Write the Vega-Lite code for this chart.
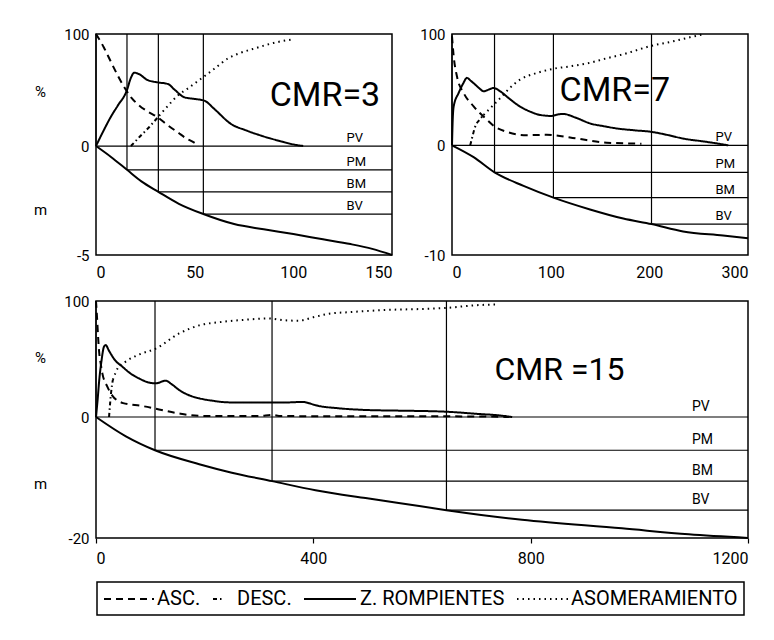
{
  "$schema": "https://vega.github.io/schema/vega-lite/v6.json",
  "padding": {"left": 32, "top": 26, "right": 5, "bottom": 5},
  "background": "white",
  "spacing": 12,
  "config": {
    "font": "Roboto",
    "view": {"stroke": "#000", "strokeWidth": 1.5},
    "line": {"color": "#000"},
    "axis": {"grid": false, "domain": false, "ticks": false, "labelColor": "#000", "titleColor": "#000", "titleFontWeight": "normal", "titleFontSize": 15, "labelFontSize": 15}
  },
  "resolve": {"scale": {"strokeDash": "independent"}, "legend": {"strokeDash": "independent"}},
  "datasets": {
    "p1_lines": [
      {"s": "ASC.", "x": 0, "p": 100}, {"s": "ASC.", "x": 4, "p": 88}, {"s": "ASC.", "x": 7.6, "p": 75}, {"s": "ASC.", "x": 11, "p": 63}, {"s": "ASC.", "x": 15.2, "p": 50}, {"s": "ASC.", "x": 18, "p": 43}, {"s": "ASC.", "x": 22, "p": 36}, {"s": "ASC.", "x": 26, "p": 31}, {"s": "ASC.", "x": 31.3, "p": 25.6}, {"s": "ASC.", "x": 36, "p": 19}, {"s": "ASC.", "x": 41.4, "p": 12.2}, {"s": "ASC.", "x": 46, "p": 6.5}, {"s": "ASC.", "x": 49.8, "p": 3}, {"s": "ASC.", "x": 52, "p": 0},
      {"s": "DESC.", "x": 17.7, "p": 0}, {"s": "DESC.", "x": 22, "p": 8}, {"s": "DESC.", "x": 27, "p": 17}, {"s": "DESC.", "x": 32, "p": 27},
      {"s": "ASOMERAMIENTO", "x": 32, "p": 27}, {"s": "ASOMERAMIENTO", "x": 36.5, "p": 36}, {"s": "ASOMERAMIENTO", "x": 41.4, "p": 45}, {"s": "ASOMERAMIENTO", "x": 47, "p": 52}, {"s": "ASOMERAMIENTO", "x": 53.2, "p": 60}, {"s": "ASOMERAMIENTO", "x": 60, "p": 69}, {"s": "ASOMERAMIENTO", "x": 66.7, "p": 78}, {"s": "ASOMERAMIENTO", "x": 73, "p": 83}, {"s": "ASOMERAMIENTO", "x": 80.2, "p": 87}, {"s": "ASOMERAMIENTO", "x": 90, "p": 92}, {"s": "ASOMERAMIENTO", "x": 100.5, "p": 95.5},
      {"s": "Z. ROMPIENTES", "x": 0, "p": 0}, {"s": "Z. ROMPIENTES", "x": 4.2, "p": 15}, {"s": "Z. ROMPIENTES", "x": 7.5, "p": 26}, {"s": "Z. ROMPIENTES", "x": 11, "p": 36}, {"s": "Z. ROMPIENTES", "x": 15.7, "p": 50}, {"s": "Z. ROMPIENTES", "x": 17.5, "p": 60}, {"s": "Z. ROMPIENTES", "x": 19.4, "p": 65.5}, {"s": "Z. ROMPIENTES", "x": 22, "p": 64}, {"s": "Z. ROMPIENTES", "x": 26, "p": 59}, {"s": "Z. ROMPIENTES", "x": 31.3, "p": 56.8}, {"s": "Z. ROMPIENTES", "x": 36.4, "p": 55.4}, {"s": "Z. ROMPIENTES", "x": 40, "p": 50}, {"s": "Z. ROMPIENTES", "x": 44.8, "p": 43.5}, {"s": "Z. ROMPIENTES", "x": 50, "p": 42}, {"s": "Z. ROMPIENTES", "x": 54.9, "p": 40.5}, {"s": "Z. ROMPIENTES", "x": 60, "p": 33}, {"s": "Z. ROMPIENTES", "x": 68.5, "p": 19.6}, {"s": "Z. ROMPIENTES", "x": 76, "p": 14}, {"s": "Z. ROMPIENTES", "x": 83.8, "p": 9.2}, {"s": "Z. ROMPIENTES", "x": 92, "p": 5}, {"s": "Z. ROMPIENTES", "x": 100.7, "p": 1.2}, {"s": "Z. ROMPIENTES", "x": 105, "p": 0}
    ],
    "p1_depth": [
      {"x": 0, "d": 0}, {"x": 7.6, "d": -0.5}, {"x": 15.7, "d": -1.09}, {"x": 23, "d": -1.62}, {"x": 31.6, "d": -2.1}, {"x": 42, "d": -2.65}, {"x": 54.4, "d": -3.12}, {"x": 70, "d": -3.58}, {"x": 85, "d": -3.82}, {"x": 100, "d": -4.04}, {"x": 115, "d": -4.28}, {"x": 129, "d": -4.5}, {"x": 140, "d": -4.72}, {"x": 150, "d": -5}
    ],
    "p1_zones": [
      {"zone": "PV", "x": 0, "d": 0}, {"zone": "PM", "x": 15.7, "d": -1.09}, {"zone": "BM", "x": 31.6, "d": -2.1}, {"zone": "BV", "x": 54.4, "d": -3.12}
    ],
    "p2_lines": [
      {"s": "ASC.", "x": 0, "p": 98}, {"s": "ASC.", "x": 1.7, "p": 80}, {"s": "ASC.", "x": 5, "p": 62}, {"s": "ASC.", "x": 11.8, "p": 47}, {"s": "ASC.", "x": 21.9, "p": 35}, {"s": "ASC.", "x": 35.4, "p": 23}, {"s": "ASC.", "x": 42.1, "p": 17.6}, {"s": "ASC.", "x": 55.6, "p": 12.1}, {"s": "ASC.", "x": 75.8, "p": 9.1}, {"s": "ASC.", "x": 96, "p": 9.5}, {"s": "ASC.", "x": 102.8, "p": 9.1}, {"s": "ASC.", "x": 126.4, "p": 6.1}, {"s": "ASC.", "x": 156.7, "p": 2.4}, {"s": "ASC.", "x": 192, "p": 1.5},
      {"s": "DESC.", "x": 18.5, "p": 0}, {"s": "DESC.", "x": 21, "p": 9}, {"s": "DESC.", "x": 23.6, "p": 17}, {"s": "DESC.", "x": 28, "p": 23}, {"s": "DESC.", "x": 32, "p": 27.3},
      {"s": "ASOMERAMIENTO", "x": 32, "p": 27.3}, {"s": "ASOMERAMIENTO", "x": 40.4, "p": 34.8}, {"s": "ASOMERAMIENTO", "x": 48.9, "p": 42.4}, {"s": "ASOMERAMIENTO", "x": 58, "p": 51}, {"s": "ASOMERAMIENTO", "x": 69, "p": 59}, {"s": "ASOMERAMIENTO", "x": 86, "p": 65}, {"s": "ASOMERAMIENTO", "x": 102.8, "p": 68.8}, {"s": "ASOMERAMIENTO", "x": 120, "p": 71}, {"s": "ASOMERAMIENTO", "x": 139.9, "p": 74.2}, {"s": "ASOMERAMIENTO", "x": 156, "p": 78}, {"s": "ASOMERAMIENTO", "x": 173.6, "p": 81.8}, {"s": "ASOMERAMIENTO", "x": 202.2, "p": 89.4}, {"s": "ASOMERAMIENTO", "x": 222, "p": 93}, {"s": "ASOMERAMIENTO", "x": 241, "p": 97}, {"s": "ASOMERAMIENTO", "x": 256, "p": 100},
      {"s": "Z. ROMPIENTES", "x": 0, "p": 0}, {"s": "Z. ROMPIENTES", "x": 0.6, "p": 20}, {"s": "Z. ROMPIENTES", "x": 1.7, "p": 35}, {"s": "Z. ROMPIENTES", "x": 6.7, "p": 47}, {"s": "Z. ROMPIENTES", "x": 11, "p": 55}, {"s": "Z. ROMPIENTES", "x": 15.2, "p": 60.6}, {"s": "Z. ROMPIENTES", "x": 19, "p": 58}, {"s": "Z. ROMPIENTES", "x": 23.6, "p": 54.5}, {"s": "Z. ROMPIENTES", "x": 28, "p": 51}, {"s": "Z. ROMPIENTES", "x": 32, "p": 48.5}, {"s": "Z. ROMPIENTES", "x": 37, "p": 50}, {"s": "Z. ROMPIENTES", "x": 42.1, "p": 51.5}, {"s": "Z. ROMPIENTES", "x": 48.9, "p": 48.5}, {"s": "Z. ROMPIENTES", "x": 58, "p": 42}, {"s": "Z. ROMPIENTES", "x": 69, "p": 34.8}, {"s": "Z. ROMPIENTES", "x": 80, "p": 30}, {"s": "Z. ROMPIENTES", "x": 89.3, "p": 27.3}, {"s": "Z. ROMPIENTES", "x": 101, "p": 26.4}, {"s": "Z. ROMPIENTES", "x": 106, "p": 27.5}, {"s": "Z. ROMPIENTES", "x": 112.9, "p": 28.2}, {"s": "Z. ROMPIENTES", "x": 125, "p": 25}, {"s": "Z. ROMPIENTES", "x": 139.9, "p": 19.7}, {"s": "Z. ROMPIENTES", "x": 155, "p": 17}, {"s": "Z. ROMPIENTES", "x": 166.8, "p": 15.2}, {"s": "Z. ROMPIENTES", "x": 185, "p": 13.5}, {"s": "Z. ROMPIENTES", "x": 202.2, "p": 12.1}, {"s": "Z. ROMPIENTES", "x": 220, "p": 9}, {"s": "Z. ROMPIENTES", "x": 234.2, "p": 6.1}, {"s": "Z. ROMPIENTES", "x": 255, "p": 3.5}, {"s": "Z. ROMPIENTES", "x": 270, "p": 1.5}, {"s": "Z. ROMPIENTES", "x": 280, "p": 0}
    ],
    "p2_depth": [
      {"x": 0, "d": 0}, {"x": 21.9, "d": -1.08}, {"x": 43.1, "d": -2.46}, {"x": 72.5, "d": -3.7}, {"x": 102.8, "d": -4.77}, {"x": 139.9, "d": -5.85}, {"x": 173.6, "d": -6.68}, {"x": 202.2, "d": -7.18}, {"x": 234.2, "d": -7.85}, {"x": 274.7, "d": -8.22}, {"x": 300, "d": -8.47}
    ],
    "p2_zones": [
      {"zone": "PV", "x": 0, "d": 0}, {"zone": "PM", "x": 43.1, "d": -2.46}, {"zone": "BM", "x": 102.8, "d": -4.77}, {"zone": "BV", "x": 202.2, "d": -7.18}
    ],
    "p3_lines": [
      {"s": "ASC.", "x": 0, "p": 100}, {"s": "ASC.", "x": 2, "p": 85}, {"s": "ASC.", "x": 4, "p": 68}, {"s": "ASC.", "x": 6, "p": 55}, {"s": "ASC.", "x": 9, "p": 45}, {"s": "ASC.", "x": 11.7, "p": 37.6}, {"s": "ASC.", "x": 20, "p": 27}, {"s": "ASC.", "x": 30, "p": 18.5}, {"s": "ASC.", "x": 50, "p": 12}, {"s": "ASC.", "x": 85, "p": 9.5}, {"s": "ASC.", "x": 116, "p": 6.5}, {"s": "ASC.", "x": 153, "p": 3}, {"s": "ASC.", "x": 190, "p": 1}, {"s": "ASC.", "x": 240, "p": 0.8}, {"s": "ASC.", "x": 300, "p": 0.8}, {"s": "ASC.", "x": 324, "p": 1.8}, {"s": "ASC.", "x": 340, "p": 0.8}, {"s": "ASC.", "x": 450, "p": 0.7}, {"s": "ASC.", "x": 600, "p": 0.6}, {"s": "ASC.", "x": 700, "p": 0.5}, {"s": "ASC.", "x": 760, "p": 0},
      {"s": "DESC.", "x": 24, "p": 0}, {"s": "DESC.", "x": 26, "p": 12}, {"s": "DESC.", "x": 28, "p": 22}, {"s": "DESC.", "x": 31, "p": 32},
      {"s": "ASOMERAMIENTO", "x": 31, "p": 32}, {"s": "ASOMERAMIENTO", "x": 40, "p": 42}, {"s": "ASOMERAMIENTO", "x": 54.6, "p": 47.7}, {"s": "ASOMERAMIENTO", "x": 80, "p": 54}, {"s": "ASOMERAMIENTO", "x": 110, "p": 59}, {"s": "ASOMERAMIENTO", "x": 153, "p": 72}, {"s": "ASOMERAMIENTO", "x": 190, "p": 79}, {"s": "ASOMERAMIENTO", "x": 232, "p": 82}, {"s": "ASOMERAMIENTO", "x": 280, "p": 84}, {"s": "ASOMERAMIENTO", "x": 318, "p": 85}, {"s": "ASOMERAMIENTO", "x": 345, "p": 83.5}, {"s": "ASOMERAMIENTO", "x": 373, "p": 83}, {"s": "ASOMERAMIENTO", "x": 400, "p": 86}, {"s": "ASOMERAMIENTO", "x": 429, "p": 89}, {"s": "ASOMERAMIENTO", "x": 470, "p": 90.5}, {"s": "ASOMERAMIENTO", "x": 521, "p": 92}, {"s": "ASOMERAMIENTO", "x": 643, "p": 94}, {"s": "ASOMERAMIENTO", "x": 705, "p": 96.5}, {"s": "ASOMERAMIENTO", "x": 740, "p": 97},
      {"s": "Z. ROMPIENTES", "x": 0, "p": 0}, {"s": "Z. ROMPIENTES", "x": 3, "p": 15}, {"s": "Z. ROMPIENTES", "x": 6, "p": 32}, {"s": "Z. ROMPIENTES", "x": 10, "p": 48}, {"s": "Z. ROMPIENTES", "x": 14.7, "p": 60.6}, {"s": "Z. ROMPIENTES", "x": 17.8, "p": 62}, {"s": "Z. ROMPIENTES", "x": 24, "p": 57}, {"s": "Z. ROMPIENTES", "x": 35, "p": 49}, {"s": "Z. ROMPIENTES", "x": 48.5, "p": 43.4}, {"s": "Z. ROMPIENTES", "x": 65, "p": 37}, {"s": "Z. ROMPIENTES", "x": 79, "p": 33.3}, {"s": "Z. ROMPIENTES", "x": 95, "p": 30}, {"s": "Z. ROMPIENTES", "x": 110, "p": 29}, {"s": "Z. ROMPIENTES", "x": 128, "p": 31.3}, {"s": "Z. ROMPIENTES", "x": 140, "p": 28}, {"s": "Z. ROMPIENTES", "x": 153, "p": 23.3}, {"s": "Z. ROMPIENTES", "x": 170, "p": 19}, {"s": "Z. ROMPIENTES", "x": 190, "p": 16.1}, {"s": "Z. ROMPIENTES", "x": 215, "p": 14}, {"s": "Z. ROMPIENTES", "x": 245, "p": 12.6}, {"s": "Z. ROMPIENTES", "x": 300, "p": 12.4}, {"s": "Z. ROMPIENTES", "x": 355, "p": 12.6}, {"s": "Z. ROMPIENTES", "x": 379, "p": 13}, {"s": "Z. ROMPIENTES", "x": 410, "p": 9.5}, {"s": "Z. ROMPIENTES", "x": 447, "p": 7.5}, {"s": "Z. ROMPIENTES", "x": 500, "p": 6}, {"s": "Z. ROMPIENTES", "x": 557, "p": 5.5}, {"s": "Z. ROMPIENTES", "x": 643, "p": 4.6}, {"s": "Z. ROMPIENTES", "x": 705, "p": 2.6}, {"s": "Z. ROMPIENTES", "x": 740, "p": 1.5}, {"s": "Z. ROMPIENTES", "x": 766, "p": 0}
    ],
    "p3_depth": [
      {"x": 0, "d": 0}, {"x": 55, "d": -3.2}, {"x": 108.6, "d": -5.5}, {"x": 190, "d": -7.8}, {"x": 250, "d": -9.2}, {"x": 324, "d": -10.6}, {"x": 404, "d": -12.1}, {"x": 496, "d": -13.4}, {"x": 557, "d": -14.2}, {"x": 645, "d": -15.4}, {"x": 784, "d": -17}, {"x": 968, "d": -18.4}, {"x": 1091, "d": -19.4}, {"x": 1200, "d": -20}
    ],
    "p3_zones": [
      {"zone": "PV", "x": 0, "d": 0}, {"zone": "PM", "x": 108.6, "d": -5.5}, {"zone": "BM", "x": 324, "d": -10.6}, {"zone": "BV", "x": 645, "d": -15.4}
    ]
  },
  "vconcat": [
    {
      "hconcat": [
        {
          "width": 296, "height": 221,
          "layer": [
            {
              "layer": [
                {
                  "data": {"name": "p1_lines"},
                  "mark": {"type": "line", "stroke": "#000", "strokeWidth": 2, "interpolate": "monotone"},
                  "encoding": {
                    "x": {"field": "x", "type": "quantitative", "scale": {"domain": [0, 150], "nice": false, "zero": false}, "axis": {"values": [0, 50, 100, 150], "title": null, "labelPadding": 9, "labelFontSize": 16}},
                    "y": {"field": "p", "type": "quantitative", "scale": {"domain": [-97.3, 100], "nice": false, "zero": false}, "axis": {"orient": "left", "values": [0, 100], "title": "%", "titleAngle": 0, "titleX": -56, "titleY": 57, "titleAlign": "center", "titleBaseline": "middle", "labelPadding": 7}},
                    "strokeDash": {"field": "s", "type": "nominal", "scale": {"domain": ["ASC.", "DESC.", "Z. ROMPIENTES", "ASOMERAMIENTO"], "range": [[7, 5], [4, 3, 1.5, 3], [1, 0], [1.5, 4]]}, "legend": null}
                  }
                },
                {
                  "data": {"values": [{"t": "CMR=3", "x": 116, "p": 45}]},
                  "mark": {"type": "text", "fontSize": 34, "align": "center", "baseline": "middle", "color": "#000"},
                  "encoding": {"x": {"field": "x", "type": "quantitative"}, "y": {"field": "p", "type": "quantitative"}, "text": {"field": "t"}}
                }
              ]
            },
            {
              "layer": [
                {
                  "data": {"name": "p1_depth"},
                  "mark": {"type": "line", "stroke": "#000", "strokeWidth": 2, "interpolate": "monotone"},
                  "encoding": {
                    "x": {"field": "x", "type": "quantitative"},
                    "y": {"field": "d", "type": "quantitative", "scale": {"domain": [-5, 5.14], "nice": false, "zero": false}, "axis": {"orient": "left", "values": [-5], "title": "m", "titleAngle": 0, "titleX": -56, "titleY": 175, "titleAlign": "center", "titleBaseline": "middle", "labelPadding": 7, "labelExpr": "replace(datum.label, '−', '-')"}}
                  }
                },
                {
                  "data": {"name": "p1_zones"},
                  "mark": {"type": "rule", "stroke": "#000", "strokeWidth": 1.2},
                  "encoding": {"x": {"field": "x", "type": "quantitative"}, "x2": {"datum": 150}, "y": {"field": "d", "type": "quantitative"}}
                },
                {
                  "data": {"name": "p1_zones"},
                  "mark": {"type": "rule", "stroke": "#000", "strokeWidth": 1.2},
                  "encoding": {"x": {"field": "x", "type": "quantitative"}, "y": {"field": "d", "type": "quantitative"}, "y2": {"datum": 5.14}}
                },
                {
                  "data": {"name": "p1_zones"},
                  "mark": {"type": "text", "align": "left", "baseline": "bottom", "dy": -1, "fontSize": 13, "color": "#000"},
                  "encoding": {"x": {"datum": 127}, "y": {"field": "d", "type": "quantitative"}, "text": {"field": "zone"}}
                }
              ]
            }
          ],
          "resolve": {"scale": {"y": "independent"}, "axis": {"y": "independent"}}
        },
        {
          "width": 296, "height": 221,
          "layer": [
            {
              "layer": [
                {
                  "data": {"name": "p2_lines"},
                  "mark": {"type": "line", "stroke": "#000", "strokeWidth": 2, "interpolate": "monotone"},
                  "encoding": {
                    "x": {"field": "x", "type": "quantitative", "scale": {"domain": [0, 300], "nice": false, "zero": false}, "axis": {"values": [0, 100, 200, 300], "title": null, "labelPadding": 9, "labelFontSize": 16}},
                    "y": {"field": "p", "type": "quantitative", "scale": {"domain": [-98.5, 100], "nice": false, "zero": false}, "axis": {"orient": "left", "values": [0, 100], "title": null, "labelPadding": 7}},
                    "strokeDash": {"field": "s", "type": "nominal", "scale": {"domain": ["ASC.", "DESC.", "Z. ROMPIENTES", "ASOMERAMIENTO"], "range": [[7, 5], [4, 3, 1.5, 3], [1, 0], [1.5, 4]]}, "legend": null}
                  }
                },
                {
                  "data": {"values": [{"t": "CMR=7", "x": 165, "p": 48.5}]},
                  "mark": {"type": "text", "fontSize": 34, "align": "center", "baseline": "middle", "color": "#000"},
                  "encoding": {"x": {"field": "x", "type": "quantitative"}, "y": {"field": "p", "type": "quantitative"}, "text": {"field": "t"}}
                }
              ]
            },
            {
              "layer": [
                {
                  "data": {"name": "p2_depth"},
                  "mark": {"type": "line", "stroke": "#000", "strokeWidth": 2, "interpolate": "monotone"},
                  "encoding": {
                    "x": {"field": "x", "type": "quantitative"},
                    "y": {"field": "d", "type": "quantitative", "scale": {"domain": [-10, 10.15], "nice": false, "zero": false}, "axis": {"orient": "left", "values": [-10], "title": null, "labelPadding": 7, "labelExpr": "replace(datum.label, '−', '-')"}}
                  }
                },
                {
                  "data": {"name": "p2_zones"},
                  "mark": {"type": "rule", "stroke": "#000", "strokeWidth": 1.2},
                  "encoding": {"x": {"field": "x", "type": "quantitative"}, "x2": {"datum": 300}, "y": {"field": "d", "type": "quantitative"}}
                },
                {
                  "data": {"name": "p2_zones"},
                  "mark": {"type": "rule", "stroke": "#000", "strokeWidth": 1.2},
                  "encoding": {"x": {"field": "x", "type": "quantitative"}, "y": {"field": "d", "type": "quantitative"}, "y2": {"datum": 10.15}}
                },
                {
                  "data": {"name": "p2_zones"},
                  "mark": {"type": "text", "align": "left", "baseline": "bottom", "dy": -1, "fontSize": 13, "color": "#000"},
                  "encoding": {"x": {"datum": 267}, "y": {"field": "d", "type": "quantitative"}, "text": {"field": "zone"}}
                }
              ]
            }
          ],
          "resolve": {"scale": {"y": "independent"}, "axis": {"y": "independent"}}
        }
      ],
      "spacing": 60,
      "bounds": "flush",
      "resolve": {"scale": {"strokeDash": "independent"}, "legend": {"strokeDash": "independent"}}
    },
    {
      "width": 652, "height": 237,
      "layer": [
        {
          "layer": [
            {
              "data": {"name": "p3_lines"},
              "mark": {"type": "line", "stroke": "#000", "strokeWidth": 2, "interpolate": "monotone"},
              "encoding": {
                "x": {"field": "x", "type": "quantitative", "scale": {"domain": [0, 1200], "nice": false, "zero": false}, "axis": {"values": [0, 400, 800, 1200], "format": "d", "title": null, "labelPadding": 7, "labelFontSize": 16, "ticks": true, "tickSize": 5, "tickColor": "#000", "tickWidth": 1.2}},
                "y": {"field": "p", "type": "quantitative", "scale": {"domain": [-104.3, 100], "nice": false, "zero": false}, "axis": {"orient": "left", "values": [0, 100], "title": "%", "titleAngle": 0, "titleX": -56, "titleY": 56, "titleAlign": "center", "titleBaseline": "middle", "labelPadding": 7}},
                "strokeDash": {
                  "field": "s", "type": "nominal",
                  "scale": {"domain": ["ASC.", "DESC.", "Z. ROMPIENTES", "ASOMERAMIENTO"], "range": [[7, 5], [4, 3, 1.5, 3], [1, 0], [1.5, 4]]},
                  "legend": {
                    "orient": "none", "legendX": 1, "legendY": 281, "direction": "horizontal", "title": null,
                    "strokeColor": "#000", "padding": 6, "cornerRadius": 0, "fillColor": "white",
                    "symbolType": "stroke", "symbolSize": 400, "symbolStrokeWidth": 2, "symbolStrokeColor": "#000",
                    "labelFontSize": 20, "labelColor": "#000", "labelOffset": 0, "columnPadding": 8, "labelLimit": 300,
                    "labelExpr": "datum.label === 'ASOMERAMIENTO' ? 'ASOMERAMIENTO\u00a0\u00a0\u00a0\u00a0\u00a0' : datum.label",
                    "encode": {
                      "legend": {"update": {"strokeWidth": {"value": 1.5}}},
                      "symbols": {"update": {"size": {"value": 400}, "shape": {"signal": "datum.value === 'DESC.' ? 'M-1,0H0.1' : datum.value === 'Z. ROMPIENTES' ? 'M-1,0H4.2' : datum.value === 'ASOMERAMIENTO' ? 'M-1,0H4.1' : 'M-1,0H4'"}}},
                      "labels": {"update": {"x": {"signal": "datum.value === 'DESC.' ? 25 : datum.value === 'Z. ROMPIENTES' ? 57 : datum.value === 'ASOMERAMIENTO' ? 55 : 54"}}}
                    }
                  }
                }
              }
            },
            {
              "data": {"values": [{"t": "CMR =15", "x": 853, "p": 40.5}]},
              "mark": {"type": "text", "fontSize": 32, "align": "center", "baseline": "middle", "color": "#000"},
              "encoding": {"x": {"field": "x", "type": "quantitative"}, "y": {"field": "p", "type": "quantitative"}, "text": {"field": "t"}}
            }
          ]
        },
        {
          "layer": [
            {
              "data": {"name": "p3_depth"},
              "mark": {"type": "line", "stroke": "#000", "strokeWidth": 2, "interpolate": "monotone"},
              "encoding": {
                "x": {"field": "x", "type": "quantitative"},
                "y": {"field": "d", "type": "quantitative", "scale": {"domain": [-20, 19.17], "nice": false, "zero": false}, "axis": {"orient": "left", "values": [-20], "title": "m", "titleAngle": 0, "titleX": -56, "titleY": 182, "titleAlign": "center", "titleBaseline": "middle", "labelPadding": 7, "labelExpr": "replace(datum.label, '−', '-')"}}
              }
            },
            {
              "data": {"name": "p3_zones"},
              "mark": {"type": "rule", "stroke": "#000", "strokeWidth": 1.2},
              "encoding": {"x": {"field": "x", "type": "quantitative"}, "x2": {"datum": 1200}, "y": {"field": "d", "type": "quantitative"}}
            },
            {
              "data": {"name": "p3_zones"},
              "mark": {"type": "rule", "stroke": "#000", "strokeWidth": 1.2},
              "encoding": {"x": {"field": "x", "type": "quantitative"}, "y": {"field": "d", "type": "quantitative"}, "y2": {"datum": 19.17}}
            },
            {
              "data": {"name": "p3_zones"},
              "mark": {"type": "text", "align": "left", "baseline": "bottom", "dy": -3, "fontSize": 14, "color": "#000"},
              "encoding": {"x": {"datum": 1097}, "y": {"field": "d", "type": "quantitative"}, "text": {"field": "zone"}}
            }
          ]
        }
      ],
      "resolve": {"scale": {"y": "independent"}, "axis": {"y": "independent"}}
    }
  ]
}
